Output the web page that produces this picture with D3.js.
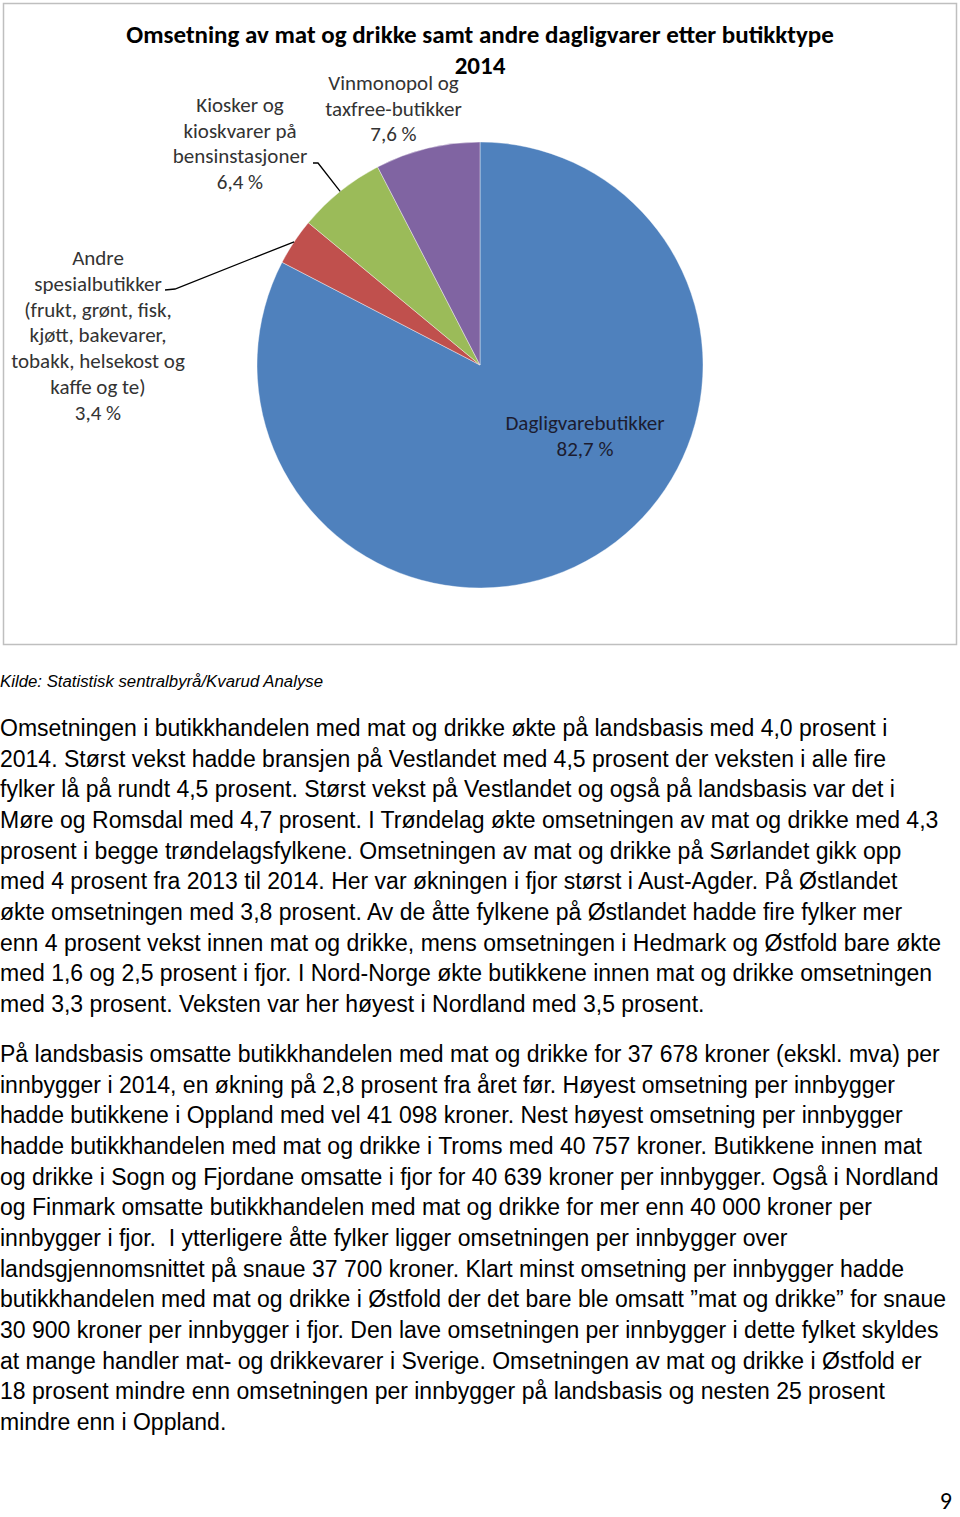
<!DOCTYPE html>
<html><head><meta charset="utf-8">
<script src="https://cdn.jsdelivr.net/npm/d3@7"></script>
<style>body{margin:0;background:#fff}svg{display:block}</style>
</head><body>
<script>
const categories = ["Dagligvarebutikker","Andre spesialbutikker","Kiosker og kioskvarer på bensinstasjoner","Vinmonopol og taxfree-butikker"];
const values = [82.7, 3.4, 6.4, 7.6];
const colors = ["#4F81BD","#C0504D","#9BBB59","#8064A2"];
const labelLines = [
  ["Dagligvarebutikker","82,7 %"],
  ["Andre","spesialbutikker","(frukt, grønt, fisk,","kjøtt, bakevarer,","tobakk, helsekost og","kaffe og te)","3,4 %"],
  ["Kiosker og","kioskvarer på","bensinstasjoner","6,4 %"],
  ["Vinmonopol og","taxfree-butikker","7,6 %"]
];
const titleLines = ["Omsetning av mat og drikke samt andre dagligvarer etter butikktype","2014"];
const sourceText = "Kilde: Statistisk sentralbyrå/Kvarud Analyse";
const para1 = [
"Omsetningen i butikkhandelen med mat og drikke økte på landsbasis med 4,0 prosent i",
"2014. Størst vekst hadde bransjen på Vestlandet med 4,5 prosent der veksten i alle fire",
"fylker lå på rundt 4,5 prosent. Størst vekst på Vestlandet og også på landsbasis var det i",
"Møre og Romsdal med 4,7 prosent. I Trøndelag økte omsetningen av mat og drikke med 4,3",
"prosent i begge trøndelagsfylkene. Omsetningen av mat og drikke på Sørlandet gikk opp",
"med 4 prosent fra 2013 til 2014. Her var økningen i fjor størst i Aust-Agder. På Østlandet",
"økte omsetningen med 3,8 prosent. Av de åtte fylkene på Østlandet hadde fire fylker mer",
"enn 4 prosent vekst innen mat og drikke, mens omsetningen i Hedmark og Østfold bare økte",
"med 1,6 og 2,5 prosent i fjor. I Nord-Norge økte butikkene innen mat og drikke omsetningen",
"med 3,3 prosent. Veksten var her høyest i Nordland med 3,5 prosent."
];
const para2 = [
"På landsbasis omsatte butikkhandelen med mat og drikke for 37 678 kroner (ekskl. mva) per",
"innbygger i 2014, en økning på 2,8 prosent fra året før. Høyest omsetning per innbygger",
"hadde butikkene i Oppland med vel 41 098 kroner. Nest høyest omsetning per innbygger",
"hadde butikkhandelen med mat og drikke i Troms med 40 757 kroner. Butikkene innen mat",
"og drikke i Sogn og Fjordane omsatte i fjor for 40 639 kroner per innbygger. Også i Nordland",
"og Finmark omsatte butikkhandelen med mat og drikke for mer enn 40 000 kroner per",
"innbygger i fjor.  I ytterligere åtte fylker ligger omsetningen per innbygger over",
"landsgjennomsnittet på snaue 37 700 kroner. Klart minst omsetning per innbygger hadde",
"butikkhandelen med mat og drikke i Østfold der det bare ble omsatt ”mat og drikke” for snaue",
"30 900 kroner per innbygger i fjor. Den lave omsetningen per innbygger i dette fylket skyldes",
"at mange handler mat- og drikkevarer i Sverige. Omsetningen av mat og drikke i Østfold er",
"18 prosent mindre enn omsetningen per innbygger på landsbasis og nesten 25 prosent",
"mindre enn i Oppland."
];
const pageNumber = "9";

const W = 960, H = 1517;
const svg = d3.select("body").append("svg").attr("width", W).attr("height", H);

// chart frame
svg.append("rect").attr("x",3.5).attr("y",3.5).attr("width",953).attr("height",641)
  .attr("fill","#fff").attr("stroke","#bfbfbf").attr("stroke-width",1.5);

const chartFont = "Carlito, Calibri, Lato, sans-serif";
// title
svg.append("g").selectAll("text").data(titleLines).join("text")
  .attr("x",480).attr("y",(d,i)=>43+i*31)
  .attr("text-anchor","middle").attr("font-family",chartFont)
  .attr("font-weight","bold").attr("font-size",25).attr("fill","#000")
  .text(d=>d);

// pie
const cx = 480, cy = 365, R = 223;
const pie = d3.pie().sort(null).value(d=>d)(values);
const arc = d3.arc().innerRadius(0).outerRadius(R);
const g = svg.append("g").attr("transform",`translate(${cx},${cy})`);
g.selectAll("path").data(pie).join("path")
  .attr("d",arc).attr("fill",(d,i)=>colors[i])
  .attr("stroke","#fff").attr("stroke-width",0.4);

// labels
const labelPos = [
  {x:585, y:430, color:"#1c1c30"},
  {x:98, y:265.3, color:"#333"},
  {x:240, y:112, color:"#333"},
  {x:393.5, y:90, color:"#333"}
];
const lh = 25.7;
labelLines.forEach((lines,i)=>{
  const p = labelPos[i];
  svg.append("g").selectAll("text").data(lines).join("text")
    .attr("x",p.x).attr("y",(d,j)=>p.y+j*lh)
    .attr("text-anchor","middle").attr("font-family",chartFont)
    .attr("font-size",21).attr("fill",p.color).text(d=>d);
});

// leader lines (end at slice mid-angle on the outer arc)
function edge(i){ const a=(pie[i].startAngle+pie[i].endAngle)/2; return [cx+R*Math.sin(a), cy-R*Math.cos(a)]; }
const leaders = [
  {i:1, pts:[[165,290],[175,289]]},
  {i:2, pts:[[313,163],[318,163]]}
];
leaders.forEach(l=>{
  const e = edge(l.i);
  svg.append("path").attr("d", d3.line()([...l.pts, e]))
    .attr("fill","none").attr("stroke","#000").attr("stroke-width",1.3);
});

// source
svg.append("text").attr("x",0).attr("y",687)
  .attr("font-family","'Liberation Sans', Arial, sans-serif").attr("font-style","italic")
  .attr("font-size",16.8).attr("fill","#000").text(sourceText);

// paragraphs
const bodyFont = "'Liberation Sans', Arial, sans-serif";
function para(lines, y0){
  svg.append("g").selectAll("text").data(lines).join("text")
    .attr("x",0).attr("y",(d,i)=>y0+i*30.65)
    .attr("font-family",bodyFont).attr("font-size",23).attr("fill","#000")
    .style("white-space","pre")
    .text(d=>d);
}
para(para1, 736);
para(para2, 1062);

svg.append("text").attr("x",952).attr("y",1509).attr("text-anchor","end")
  .attr("font-family",chartFont).attr("font-size",24).attr("fill","#000").text(pageNumber);
</script>
</body></html>
